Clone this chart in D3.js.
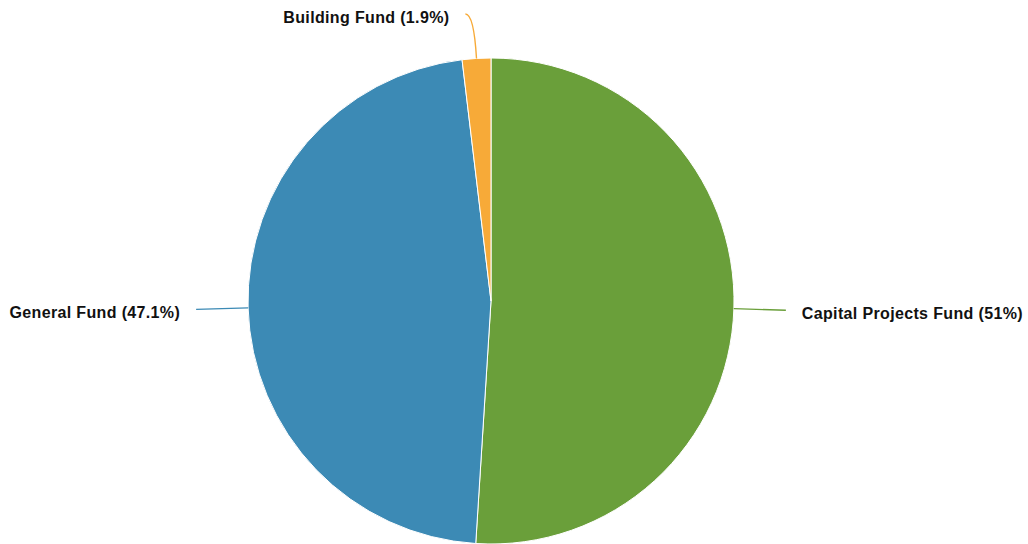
<!DOCTYPE html>
<html>
<head>
<meta charset="utf-8">
<script src="https://cdn.jsdelivr.net/npm/d3@7"></script>
<style>
  html, body { margin: 0; padding: 0; background: #fff; }
  svg { display: block; }
  .label { font-family: "Liberation Sans", Arial, Helvetica, sans-serif; font-weight: bold; font-size: 16px; letter-spacing: 0.35px; fill: #111; }
</style>
</head>
<body>
<svg id="chart" width="1028" height="544"></svg>
<script>
// Fund shares, percent of total
const funds = ["Capital Projects Fund", "General Fund", "Building Fund"];
const shares = [51, 47.1, 1.9];
const colors = ["#6a9f3a", "#3c8ab5", "#f7aa38"];

const width = 1028, height = 544;
const cx = 491, cy = 301, radius = 243;
const lineOuter = 295;   // radius where connector lines end
const labelGap = 16;     // space between line end and text
const topLimit = 14;     // keep labels inside the view

const svg = d3.select("#chart");
const g = svg.append("g").attr("transform", `translate(${cx},${cy})`);

const data = funds.map((name, i) => ({ name, value: shares[i], color: colors[i] }));

const pie = d3.pie().value(d => d.value).sort(null);
const arc = d3.arc().innerRadius(0).outerRadius(radius);
const arcs = pie(data);

g.selectAll("path.slice")
  .data(arcs)
  .join("path")
  .attr("class", "slice")
  .attr("d", arc)
  .attr("fill", d => d.data.color)
  .attr("stroke", "#fff")
  .attr("stroke-width", 1);

function polar(r, a) {
  return [r * Math.sin(a), -r * Math.cos(a)];
}

arcs.forEach(d => {
  const mid = (d.startAngle + d.endAngle) / 2;
  const p0 = polar(radius, mid);
  let end = polar(lineOuter, mid);
  const right = end[0] > 0;
  // clamp labels that would leave the top of the view and bend the line sideways
  if (end[1] + cy < topLimit) {
    end = [end[0] + (right ? 8 : -8), topLimit - cy];
  }
  const t = (end[1] - p0[1]) / (-Math.cos(mid) || 1);
  const ctrl = [p0[0] + t * Math.sin(mid), end[1]];
  const path = d3.path();
  path.moveTo(p0[0], p0[1]);
  path.quadraticCurveTo(ctrl[0], ctrl[1], end[0], end[1]);

  g.append("path")
    .attr("d", path.toString())
    .attr("fill", "none")
    .attr("stroke", d.data.color)
    .attr("stroke-width", 1.4);

  g.append("text")
    .attr("class", "label")
    .attr("x", end[0] + (right ? labelGap : -labelGap))
    .attr("y", end[1] + 8.8)
    .attr("text-anchor", right ? "start" : "end")
    .text(`${d.data.name} (${d.data.value}%)`);
});
</script>
</body>
</html>
